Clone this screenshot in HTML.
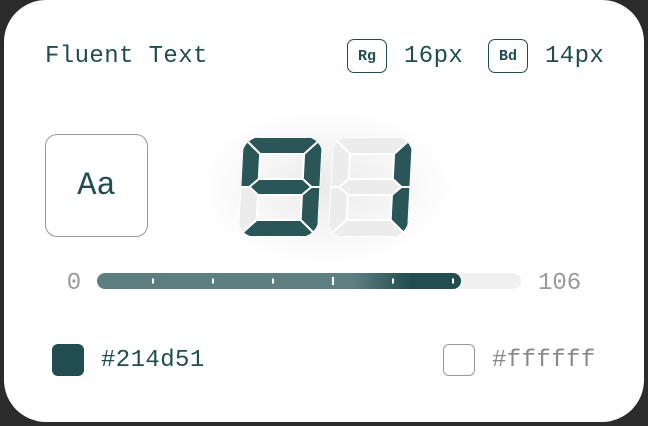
<!DOCTYPE html>
<html><head><meta charset="utf-8"><style>
html,body{margin:0;padding:0;width:648px;height:426px;overflow:hidden;background:#2b2b2b;font-family:"Liberation Mono",monospace;}
#card{position:absolute;left:4px;top:0;width:640px;height:422px;background:#fff;border-radius:42px;}
.t{position:absolute;font-size:24px;letter-spacing:0.4px;line-height:1;color:#214d51;white-space:nowrap;}
.badge{position:absolute;top:39px;width:38px;height:32px;border:1px solid #214d51;border-radius:7px;font-family:"Liberation Mono",monospace;font-size:15px;font-weight:bold;color:#214d51;display:flex;align-items:center;justify-content:center;}
</style></head><body>
<div id="card"></div>
<div class="t" style="left:45px;top:45px">Fluent Text</div>
<div class="badge" style="left:347px">Rg</div>
<div class="t" style="left:404px;top:45px">16px</div>
<div class="badge" style="left:488px">Bd</div>
<div class="t" style="left:545px;top:45px">14px</div>
<div style="position:absolute;left:45px;top:134px;width:101px;height:101px;border:1px solid #999;border-radius:12px;display:flex;align-items:center;justify-content:center;font-size:32px;color:#214d51">Aa</div>
<svg id="chart" width="648" height="426" style="position:absolute;left:0;top:0">
<defs>
<radialGradient id="glow"><stop offset="0" stop-color="#000" stop-opacity="0.08"/><stop offset="1" stop-color="#000" stop-opacity="0"/></radialGradient>
<linearGradient id="fillg" x1="0" x2="1"><stop offset="0" stop-color="#5c7e80"/><stop offset="0.7" stop-color="#5f8082"/><stop offset="0.86" stop-color="#214d51"/><stop offset="1" stop-color="#214d51"/></linearGradient>
</defs>
<g id="digits"></g>
<g id="bar"></g>
<text x="74" y="289" text-anchor="middle" font-size="24" fill="#999" font-family="Liberation Mono, monospace">0</text>
<text id="maxlbl" x="538" y="289" font-size="24" fill="#999" font-family="Liberation Mono, monospace">106</text>
</svg>
<div style="position:absolute;left:52px;top:344px;width:32px;height:32px;border-radius:6px;background:#214d51"></div>
<div class="t" style="left:101px;top:349px">#214d51</div>
<div style="position:absolute;left:443px;top:344px;width:30px;height:30px;border-radius:6px;border:1px solid #999;background:#fff"></div>
<div class="t" style="left:492px;top:349px;color:#888">#ffffff</div>
<script>
const value = 91;
const minValue = 0;
const maxValue = 106;
const tickValues = [14, 29, 44, 59, 74, 89];
const NS="http://www.w3.org/2000/svg";
function mk(t,a,p){const e=document.createElementNS(NS,t);for(const k in a)e.setAttribute(k,a[k]);p.appendChild(e);return e;}
const bx0=97,bx1=521,by=273,bh=16;
function xs(v){return bx0+(v-minValue)/(maxValue-minValue)*(bx1-bx0);}
const bar=document.getElementById('bar');
const track=mk('rect',{x:bx0,y:by,width:bx1-bx0,height:bh,rx:8,fill:'#f0f0f0'},bar);


const fill=mk('rect',{x:bx0,y:by,width:xs(value)-bx0,height:bh,rx:8,fill:'url(#fillg)'},bar);


tickValues.forEach((tv,i)=>{const x=xs(tv);const h=i===3?8:5;
 const tk=mk('rect',{x:x-1,y:by+bh/2-h/2,width:2,height:h,fill:'#fff'},bar);
 
 });
const SEG={a:[[0,0],[80,0],[62,17],[18,17]],f:[[0,0],[18,17],[18,42],[9,50],[0,50]],b:[[80,0],[80,50],[71,50],[62,42],[62,17]],
g:[[9,50],[18,42],[62,42],[71,50],[62,58],[18,58]],e:[[0,50],[9,50],[18,58],[18,83],[0,100]],c:[[80,50],[71,50],[62,58],[62,83],[80,100]],d:[[0,100],[18,83],[62,83],[80,100]]};
const MAP={0:'abcdef',1:'bc',2:'abged',3:'abgcd',4:'fgbc',5:'afgcd',6:'afgedc',7:'abc',8:'abcdefg',9:'abcdfg'};
const dg=document.getElementById('digits');
mk('ellipse',{cx:326,cy:187,rx:130,ry:80,fill:'url(#glow)'},dg);
const str=String(value).padStart(2,' ');
[...str].forEach((ch,i)=>{const ox=240+i*90,oy=137;
 const cid='clip'+i;const cp=mk('clipPath',{id:cid},dg);mk('rect',{x:0,y:0,width:80,height:100,rx:18},cp);
 const g=mk('g',{transform:`translate(${ox+3},${oy}) skewX(-3)`,'clip-path':`url(#${cid})`},dg);
 
 
 const on=MAP[ch]||'';
 for(const s in SEG){const p=mk('polygon',{points:SEG[s].map(q=>q.join(',')).join(' '),fill:on.includes(s)?'#2a5658':'#ececec',stroke:'#fff','stroke-width':2,'stroke-linejoin':'round'},g);
  
  }
});
</script>
</body></html>
